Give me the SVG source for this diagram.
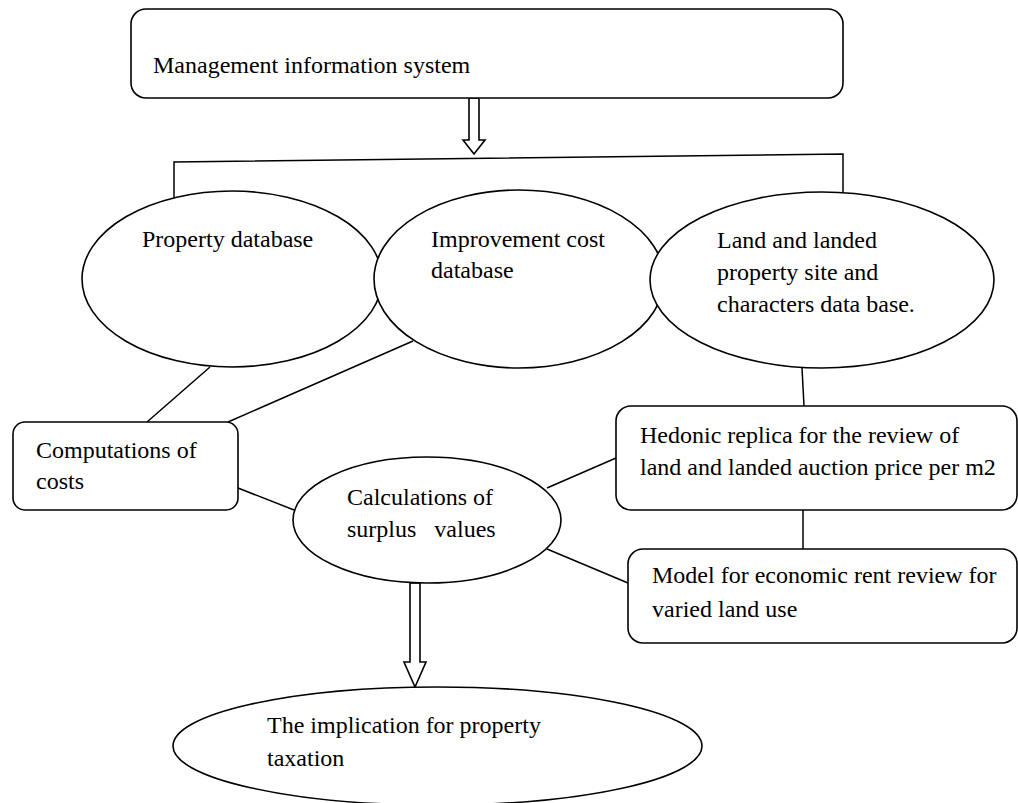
<svg xmlns="http://www.w3.org/2000/svg" width="1018" height="803" viewBox="0 0 1018 803">
<style>
.s{fill:#fff;stroke:#000;stroke-width:1.6}
.c{fill:none;stroke:#000;stroke-width:1.5}
.t{font-family:"Liberation Serif","Times New Roman",serif;font-size:24px;fill:#000;white-space:pre}
</style>
<rect width="1018" height="803" fill="#fff"/>
<g id="connectors">
<polyline class="c" points="174,203 174,162 843,154 843,192"/>
<polygon class="s" points="469,98 469,140 463,140 474,154 485,140 479,140 479,98"/>
<line class="c" x1="210" y1="367" x2="147" y2="422"/>
<line class="c" x1="413" y1="341" x2="228" y2="422"/>
<line class="c" x1="238" y1="488" x2="294" y2="510"/>
<line class="c" x1="547" y1="488" x2="616" y2="458"/>
<line class="c" x1="547" y1="549" x2="628" y2="583"/>
<line class="c" x1="802" y1="368" x2="804" y2="406"/>
<line class="c" x1="803" y1="510" x2="803" y2="549"/>
<polygon class="s" points="410,583 410,662 404,662 415,687 426,662 420,662 420,583"/>
</g>
<g id="mis">
<rect class="s" x="131" y="9" width="712" height="89" rx="15"/>
<text class="t" x="153" y="73">Management information system</text>
</g>
<g id="property-db">
<ellipse class="s" cx="232" cy="279" rx="150" ry="88"/>
<text class="t" x="142" y="247">Property database</text>
</g>
<g id="improvement-db">
<ellipse class="s" cx="519" cy="279" rx="145" ry="89"/>
<text class="t" x="431" y="247">Improvement cost</text>
<text class="t" x="431" y="278">database</text>
</g>
<g id="land-db">
<ellipse class="s" cx="822" cy="280" rx="172" ry="88"/>
<text class="t" x="717" y="248">Land and landed</text>
<text class="t" x="717" y="280">property site and</text>
<text class="t" x="717" y="312">characters data base.</text>
</g>
<g id="computations">
<rect class="s" x="13" y="422" width="225" height="88" rx="12"/>
<text class="t" x="36" y="458">Computations of</text>
<text class="t" x="36" y="489">costs</text>
</g>
<g id="calculations">
<ellipse class="s" cx="427" cy="520" rx="134" ry="63"/>
<text class="t" x="347" y="505">Calculations of</text>
<text class="t" x="347" y="537">surplus   values</text>
</g>
<g id="hedonic">
<rect class="s" x="616" y="406" width="401" height="104" rx="15"/>
<text class="t" x="640" y="443">Hedonic replica for the review of</text>
<text class="t" x="640" y="475">land and landed auction price per m2</text>
</g>
<g id="model">
<rect class="s" x="628" y="549" width="389" height="94" rx="15"/>
<text class="t" x="652" y="583">Model for economic rent review for</text>
<text class="t" x="652" y="617">varied land use</text>
</g>
<g id="taxation">
<ellipse class="s" cx="437.5" cy="746" rx="264.5" ry="59"/>
<text class="t" x="267" y="733">The implication for property</text>
<text class="t" x="267" y="766">taxation</text>
</g>
</svg>
